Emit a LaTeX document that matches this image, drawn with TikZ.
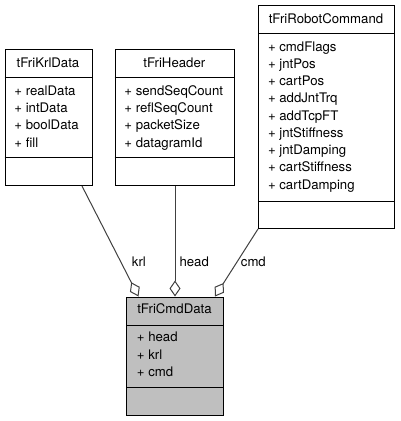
\documentclass[tikz,border=0pt]{standalone}
\usepackage{fontspec}
\setmainfont{TeX Gyre Heros}
\usetikzlibrary{arrows.meta}
\definecolor{edgegray}{HTML}{404040}
\definecolor{fillgray}{HTML}{BFBFBF}
\tikzset{
  classbox/.style={draw=black, line width=1pt, rectangle, inner sep=0pt, anchor=north west},
  sepline/.style={draw=black, line width=1pt},
  ctitle/.style={inner sep=0pt, anchor=base, font=\fontsize{13.2}{15}\selectfont},
  cattr/.style={inner sep=0pt, anchor=base west, font=\fontsize{13.2}{15}\selectfont},
  elabel/.style={inner sep=0pt, anchor=base west, font=\fontsize{13.2}{15}\selectfont},
  aggr/.style={draw=edgegray, line width=1pt,
    {Diamond[fill=white, length=16pt, width=11pt]}-},
}
\begin{document}
\begin{tikzpicture}[x=1pt, y=-1pt]
\useasboundingbox (0,0) rectangle (400,421);

% ---- tFriKrlData
\node[classbox, minimum width=87pt, minimum height=136pt] (krlbox) at (4.5,49) {};
\draw[sepline] (krlbox.west |- 0,77) -- (krlbox.east |- 0,77);
\draw[sepline] (krlbox.west |- 0,157) -- (krlbox.east |- 0,157);
\node[ctitle] (krltitle) at (48,67.5) {tFriKrlData};
\node[cattr] (krla1) at (14.2,95.7) {+ realData};
\node[cattr] (krla2) at (14.2,112.8) {+ intData};
\node[cattr] (krla3) at (14.2,129.9) {+ boolData};
\node[cattr] (krla4) at (14.2,147) {+ fill};

% ---- tFriHeader
\node[classbox, minimum width=119.5pt, minimum height=136pt] (hdrbox) at (114.5,49) {};
\draw[sepline] (hdrbox.west |- 0,77) -- (hdrbox.east |- 0,77);
\draw[sepline] (hdrbox.west |- 0,157) -- (hdrbox.east |- 0,157);
\node[ctitle] (hdrtitle) at (174.3,67.5) {tFriHeader};
\node[cattr] (hdra1) at (124.2,95.7) {+ sendSeqCount};
\node[cattr] (hdra2) at (124.2,112.8) {+ reflSeqCount};
\node[cattr] (hdra3) at (124.2,129.9) {+ packetSize};
\node[cattr] (hdra4) at (124.2,147) {+ datagramId};

% ---- tFriRobotCommand
\node[classbox, minimum width=136pt, minimum height=223pt] (robbox) at (258,5) {};
\draw[sepline] (robbox.west |- 0,33) -- (robbox.east |- 0,33);
\draw[sepline] (robbox.west |- 0,201) -- (robbox.east |- 0,201);
\node[ctitle] (robtitle) at (326,23) {tFriRobotCommand};
\foreach \t [count=\i from 0] in {cmdFlags, jntPos, cartPos, addJntTrq, addTcpFT,
    jntStiffness, jntDamping, cartStiffness, cartDamping}
  \node[cattr] (roba\i) at (267.8,51+17.25*\i) {+ \t};

% ---- tFriCmdData
\node[classbox, fill=fillgray, minimum width=97pt, minimum height=118.5pt] (cmdbox) at (126,296.5) {};
\draw[sepline] (cmdbox.west |- 0,325) -- (cmdbox.east |- 0,325);
\draw[sepline] (cmdbox.west |- 0,387) -- (cmdbox.east |- 0,387);
\node[ctitle] (cmdtitle) at (174.5,313.5) {tFriCmdData};
\node[cattr] (cmda1) at (136.7,341.7) {+ head};
\node[cattr] (cmda2) at (136.7,359.2) {+ krl};
\node[cattr] (cmda3) at (136.7,376.7) {+ cmd};

% ---- aggregations
\draw[aggr] ([xshift=12.5pt]cmdbox.north west) -- ([xshift=-10.5pt]krlbox.south east);
\draw[aggr] (cmdbox.north |- cmdbox.north west) -- (cmdbox.north |- krlbox.south);
\draw[aggr] ([xshift=-9pt]cmdbox.north east) -- (robbox.south west);

\node[elabel] (lkrl) at (131.7,266.7) {krl};
\node[elabel] (lhead) at (179.3,266.7) {head};
\node[elabel] (lcmd) at (240.7,266.7) {cmd};
\end{tikzpicture}
\end{document}
